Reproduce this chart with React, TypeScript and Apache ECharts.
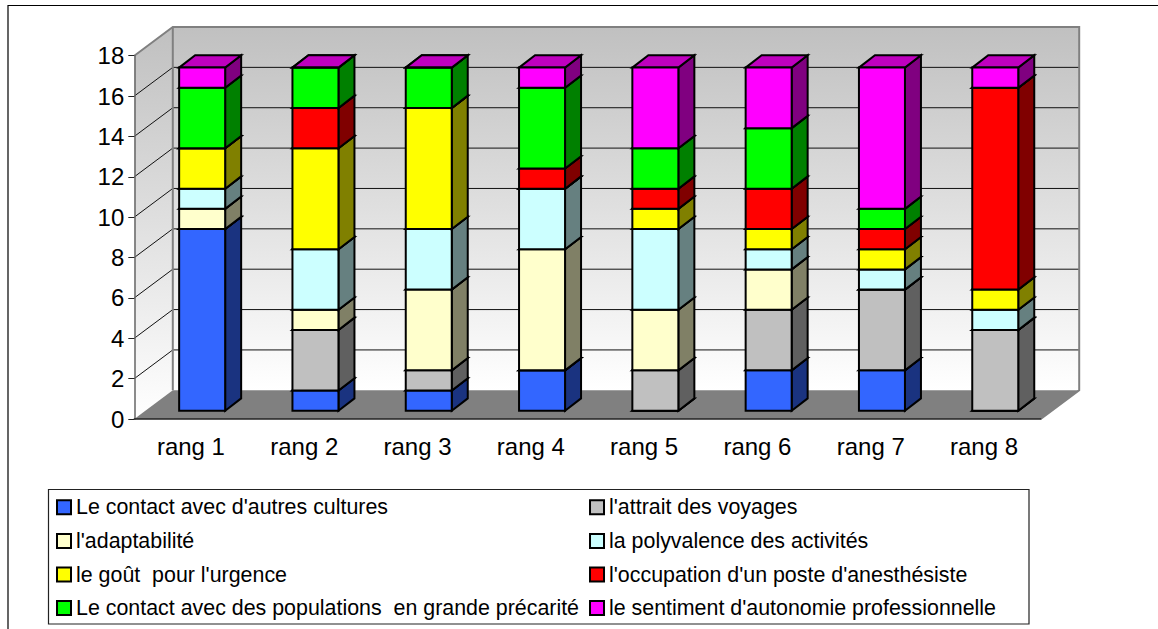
import React, { useEffect, useRef } from "react";
import * as echarts from "echarts";

const categories = ["rang 1", "rang 2", "rang 3", "rang 4", "rang 5", "rang 6", "rang 7", "rang 8"];
const yTicks = [0, 2, 4, 6, 8, 10, 12, 14, 16, 18];

const contactCultures = [9, 1, 1, 2, 0, 2, 2, 0];
const attraitVoyages = [0, 3, 1, 0, 2, 3, 4, 4];
const adaptabilite = [1, 1, 4, 6, 3, 2, 0, 0];
const polyvalence = [1, 3, 3, 3, 4, 1, 1, 1];
const gout = [2, 5, 6, 0, 1, 1, 1, 1];
const occupation = [0, 2, 0, 1, 1, 2, 1, 10];
const contactPopulations = [3, 2, 2, 4, 2, 3, 1, 0];
const sentiment = [1, 0, 0, 1, 4, 3, 7, 1];

const seriesList = [
  { name: "Le contact avec d'autres cultures", color: "#3366ff", values: contactCultures },
  { name: "l'attrait des voyages", color: "#c0c0c0", values: attraitVoyages },
  { name: "l'adaptabilité", color: "#ffffcc", values: adaptabilite },
  { name: "la polyvalence des activités", color: "#ccffff", values: polyvalence },
  { name: "le goût  pour l'urgence", color: "#ffff00", values: gout },
  { name: "l'occupation d'un poste d'anesthésiste", color: "#ff0000", values: occupation },
  { name: "Le contact avec des populations  en grande précarité", color: "#00ff00", values: contactPopulations },
  { name: "le sentiment d'autonomie professionnelle", color: "#ff00ff", values: sentiment },
];

// Legend fills by column, the reference reads by row
const legendOrder = [0, 2, 4, 6, 1, 3, 5, 7].map((i) => seriesList[i].name);

const FONT = "'Liberation Sans', Arial, sans-serif";
const WALL_DX = 38.5;
const WALL_DY = -28.7;
const BAR_DX = 11.2;
const BAR_DY = -8.3;
const DEPTH_DX = 16;
const DEPTH_DY = -12.3;
const BAR_RATIO = 0.406;

function shade(hex: string, f: number) {
  const n = parseInt(hex.slice(1), 16);
  const c = [(n >> 16) & 255, (n >> 8) & 255, n & 255].map((v) => Math.round(v * f));
  return `rgb(${c[0]},${c[1]},${c[2]})`;
}

function renderWalls(params: any, api: any) {
  const cs = params.coordSys;
  const x0 = cs.x;
  const x1 = cs.x + cs.width;
  const yAt = (v: number) => api.coord([0, v])[1];
  const y0 = yAt(0);
  const yTop = yAt(18);
  const bx0 = x0 + WALL_DX;
  const bx1 = x1 + WALL_DX;
  const gradient = () =>
    new echarts.graphic.LinearGradient(0, 0, 0, 1, [
      { offset: 0, color: "#c0c0c0" },
      { offset: 1, color: "#ffffff" },
    ]);
  const children: any[] = [
    {
      type: "polygon",
      shape: { points: [[bx0, yTop + WALL_DY], [bx1, yTop + WALL_DY], [bx1, y0 + WALL_DY], [bx0, y0 + WALL_DY]] },
      style: { fill: gradient(), stroke: "none" },
    },
    {
      type: "polygon",
      shape: { points: [[x0, yTop], [bx0, yTop + WALL_DY], [bx0, y0 + WALL_DY], [x0, y0]] },
      style: { fill: gradient(), stroke: "none" },
    },
    {
      type: "polygon",
      shape: { points: [[x0, y0], [bx0, y0 + WALL_DY], [bx1, y0 + WALL_DY], [x1, y0]] },
      style: { fill: "#808080", stroke: "none" },
    },
  ];
  yTicks.slice(1, -1).forEach((v) => {
    const y = yAt(v);
    children.push({
      type: "polyline",
      shape: { points: [[x0, y], [bx0, y + WALL_DY], [bx1, y + WALL_DY]] },
      style: { fill: "none", stroke: "#111", lineWidth: 1 },
    });
  });
  children.push({
    type: "polyline",
    shape: { points: [[x0, yTop], [bx0, yTop + WALL_DY], [bx1, yTop + WALL_DY], [bx1, y0 + WALL_DY], [x1, y0]] },
    style: { fill: "none", stroke: "#808080", lineWidth: 2 },
  });
  children.push({
    type: "line",
    shape: { x1: bx0, y1: yTop + WALL_DY, x2: bx0, y2: y0 + WALL_DY },
    style: { stroke: "#808080", lineWidth: 2 },
  });
  return { type: "group", children };
}

function renderBar(color: string) {
  return (_params: any, api: any) => {
    const cat = api.value(0);
    const start = api.value(1);
    const end = api.value(2);
    const w = api.size([1, 0])[0] * BAR_RATIO;
    const base = api.coord([cat, start]);
    const head = api.coord([cat, end]);
    const l = base[0] - w / 2 + BAR_DX;
    const r = l + w;
    const b = base[1] + BAR_DY;
    const t = head[1] + BAR_DY;
    const line = { stroke: "#000", lineWidth: 2, lineJoin: "miter" };
    return {
      type: "group",
      children: [
        {
          type: "polygon",
          shape: { points: [[r, b], [r + DEPTH_DX, b + DEPTH_DY], [r + DEPTH_DX, t + DEPTH_DY], [r, t]] },
          style: { fill: shade(color, 0.5), ...line },
        },
        {
          type: "polygon",
          shape: { points: [[l, t], [r, t], [r + DEPTH_DX, t + DEPTH_DY], [l + DEPTH_DX, t + DEPTH_DY]] },
          style: { fill: shade(color, 0.75), ...line },
        },
        {
          type: "polygon",
          shape: { points: [[l, b], [r, b], [r, t], [l, t]] },
          style: { fill: color, ...line },
        },
      ],
    };
  };
}

export default function App() {
  const ref = useRef<HTMLDivElement>(null);
  useEffect(() => {
    const chart = echarts.init(ref.current!, undefined, { renderer: "svg" });
    const totals = categories.map(() => 0);
    const barSeries = seriesList.map((s) => ({
      type: "custom",
      name: s.name,
      coordinateSystem: "cartesian2d",
      clip: false,
      z: 5,
      itemStyle: { color: s.color, borderColor: "#000", borderWidth: 2 },
      renderItem: renderBar(s.color),
      encode: { x: 0, y: [1, 2] },
      data: s.values.map((v, i) => {
        const start = totals[i];
        totals[i] += v;
        return [i, start, totals[i]];
      }),
    }));
    chart.setOption({
      animation: false,
      backgroundColor: "#ffffff",
      grid: { left: 134.3, right: 117.3, top: 55.7, height: 363.3, containLabel: false },
      xAxis: {
        type: "category",
        data: categories,
        z: 3,
        axisLine: { lineStyle: { color: "#222", width: 1.5 } },
        axisTick: { length: 6, lineStyle: { color: "#222", width: 1 } },
        axisLabel: { fontFamily: FONT, fontSize: 24, color: "#000", margin: 15 },
      },
      yAxis: {
        type: "value",
        min: 0,
        max: 18,
        interval: 2,
        z: 3,
        axisLine: { show: true, lineStyle: { color: "#666", width: 1.5 } },
        axisTick: { show: true, length: 6, lineStyle: { color: "#222", width: 1 } },
        axisLabel: { fontFamily: FONT, fontSize: 24, color: "#000", margin: 10 },
        splitLine: { show: false },
      },
      legend: {
        orient: "vertical",
        left: 56,
        top: 495.5,
        height: 132,
        padding: 0,
        itemGap: 10,
        itemWidth: 14,
        itemHeight: 14,
        icon: "rect",
        selectedMode: false,
        data: legendOrder,
        itemStyle: { borderColor: "#000", borderWidth: 2 },
        textStyle: { fontFamily: FONT, fontSize: 21.4, color: "#000", lineHeight: 23.6 },
      },
      graphic: [
        { type: "polyline", silent: true, shape: { points: [[8, 629], [8, 5.5], [1158, 5.5]] }, style: { fill: "none", stroke: "#000", lineWidth: 1.2 } },
        { type: "rect", silent: true, z: -1, shape: { x: 48.5, y: 489.5, width: 980.5, height: 134.5 }, style: { fill: "#fff", stroke: "#222", lineWidth: 1.2 } },
      ],
      series: [
        {
          type: "custom",
          coordinateSystem: "cartesian2d",
          clip: false,
          silent: true,
          z: 1,
          renderItem: renderWalls,
          encode: { x: 0, y: 1 },
          data: [[0, 0]],
        },
        ...barSeries,
      ],
    });
    return () => chart.dispose();
  }, []);
  return <div ref={ref} style={{ position: "absolute", left: 0, top: 0, width: 1158, height: 629 }} />;
}
